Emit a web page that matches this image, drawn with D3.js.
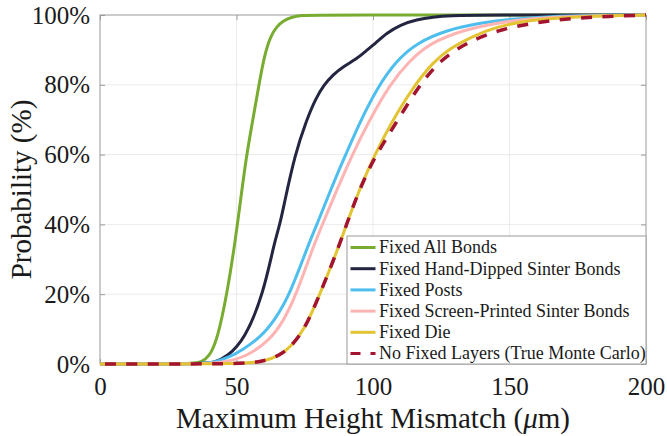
<!DOCTYPE html>
<html>
<head>
<meta charset="utf-8">
<script src="https://cdn.jsdelivr.net/npm/d3@7"></script>
<style>
  body { margin: 0; background: #fff; }
  text { font-family: "Liberation Serif", "Times New Roman", serif; fill: #1a1a1a; }
</style>
</head>
<body>
<svg id="chart" width="667" height="436"></svg>
<script>
// Axis ticks
const xTicks = [0, 50, 100, 150, 200];
const yTicks = [0, 20, 40, 60, 80, 100];

// Legend entries, colours and dash styles
const seriesNames = [
  "Fixed All Bonds",
  "Fixed Hand-Dipped Sinter Bonds",
  "Fixed Posts",
  "Fixed Screen-Printed Sinter Bonds",
  "Fixed Die",
  "No Fixed Layers (True Monte Carlo)"
];
const seriesColors = ["#77ac30", "#232541", "#4dbeee", "#ffb4b4", "#e2c433", "#a2142f"];
const seriesDashed = [false, false, false, false, false, true];

// Cumulative probability (%) against maximum height mismatch (um), [x, P]
const fixedAllBonds = [[0,0],[34,0],[37,0.5],[40,2],[43,7],[46.5,20],[49.5,35],[51.5,47],[53.7,60],
  [56,70],[58.2,80],[60.4,89],[62.5,94],[64.8,96.7],[67,98.3],[70,99.4],[74,99.9],[78,100],[200,100]];
const fixedHandDipped = [[0,0],[38,0],[42,0.5],[46.4,2],[53,7],[59.8,20],[63.9,35],[65.9,40],[67.5,46],
  [71.4,60],[75.7,70],[79,76],[82,80],[85.5,83],[89,85.2],[94,87.4],[97,89.4],[101.3,92.2],[105,94.8],
  [110,97.2],[116,98.7],[122,99.4],[128,99.8],[140,100],[200,100]];
const fixedPosts = [[0,0],[38,0],[42,0.5],[47.6,2],[52,4],[58.6,7.5],[64,12.5],[69.6,20],[76.2,34],[80,41],
  [83,47],[88,56.5],[90.3,60.5],[95,69],[101.8,79.5],[108.7,87],[116,92],[127,95.7],[139,97.7],[150,98.8],
  [165,99.6],[180,99.9],[200,100]];
const fixedScreenPrinted = [[0,0],[40,0],[45,0.5],[53.7,2],[62.3,7],[67,12],[72,20],[78.5,34.5],[81.5,40],
  [86,48.5],[92.7,60.5],[98.5,69.5],[106,80],[113.5,87],[121,92],[133,95.7],[145,97.7],[158,99],[175,99.7],
  [200,100]];
const fixedDie = [[0,0],[45,0],[55,0.3],[60,0.8],[66,2.5],[70,5],[75,10],[80,19],[86.7,32],[90.3,40],
  [95,50],[100.7,60],[106.2,68.5],[114.8,79.5],[122,86.5],[128.2,90.5],[136.7,94],[145,96.5],[155,98.2],
  [165,99],[180,99.7],[200,100]];
const noFixedLayers = [[0,0],[45,0],[55,0.3],[60,0.8],[66,2.5],[70,5],[75,10],[80,19],[86.7,32],[90.3,40],
  [95,50],[100.7,59.5],[108,68.5],[116.6,79.5],[124.5,87],[134,92],[146.5,96],[165,98.6],[183,99.5],[200,100]];

const seriesData = [fixedAllBonds, fixedHandDipped, fixedPosts, fixedScreenPrinted, fixedDie, noFixedLayers];

const W = 667, H = 436;
const margin = { left: 100, right: 21, top: 15, bottom: 72 };
const iw = W - margin.left - margin.right;
const ih = H - margin.top - margin.bottom;

const svg = d3.select("#chart");
const g = svg.append("g").attr("transform", `translate(${margin.left},${margin.top})`);

const x = d3.scaleLinear().domain([0, 200]).range([0, iw]);
const y = d3.scaleLinear().domain([0, 100]).range([ih, 0]);

// Grid
g.append("g").selectAll("line").data(xTicks.slice(1, -1)).join("line")
  .attr("x1", d => x(d)).attr("x2", d => x(d)).attr("y1", 0).attr("y2", ih)
  .attr("stroke", "#ebebeb").attr("stroke-width", 1);
g.append("g").selectAll("line").data(yTicks.slice(1, -1)).join("line")
  .attr("y1", d => y(d)).attr("y2", d => y(d)).attr("x1", 0).attr("x2", iw)
  .attr("stroke", "#ebebeb").attr("stroke-width", 1);

// Axes with inward ticks
const axisColor = "#9a9a9a";
function styleAxis(sel, fontSize) {
  sel.select(".domain").remove();
  sel.selectAll(".tick line").attr("stroke", axisColor);
  sel.selectAll(".tick text").attr("font-size", fontSize)
    .attr("font-family", "'Liberation Serif', 'Times New Roman', serif").attr("fill", "#1a1a1a");
}
g.append("g").attr("transform", `translate(0,${ih})`)
  .call(d3.axisBottom(x).tickValues(xTicks).tickSizeInner(-5).tickSizeOuter(0).tickPadding(13))
  .call(s => styleAxis(s, 25));
g.append("g")
  .call(d3.axisLeft(y).tickValues(yTicks).tickFormat(d => d + "%").tickSizeInner(-5).tickSizeOuter(0).tickPadding(10))
  .call(s => styleAxis(s, 25));
g.append("g")
  .call(d3.axisTop(x).tickValues(xTicks).tickFormat("").tickSizeInner(-5).tickSizeOuter(0))
  .call(s => styleAxis(s, 25));
g.append("g").attr("transform", `translate(${iw},0)`)
  .call(d3.axisRight(y).tickValues(yTicks).tickFormat("").tickSizeInner(-5).tickSizeOuter(0))
  .call(s => styleAxis(s, 25));

// Plot box
g.append("rect").attr("x", 0).attr("y", 0).attr("width", iw).attr("height", ih)
  .attr("fill", "none").attr("stroke", axisColor).attr("stroke-width", 1);

// Curves (B-spline through the sampled points for smooth CDFs)
const line = d3.line().x(d => x(d[0])).y(d => y(d[1])).curve(d3.curveBasis);
seriesData.forEach((data, i) => {
  g.append("path").datum(data)
    .attr("d", line)
    .attr("fill", "none")
    .attr("stroke", seriesColors[i])
    .attr("stroke-width", seriesDashed[i] ? 3.5 : 3)
    .attr("stroke-linejoin", "round")
    .attr("stroke-dasharray", seriesDashed[i] ? "11,10.4" : null)
    .attr("stroke-dashoffset", seriesDashed[i] ? 16.4 : null);
});

// Legend (anchored to lower right corner of the plot)
const legW = 299, legH = 128, rowH = 21.2;
const leg = g.append("g").attr("transform", `translate(${iw - legW},${ih - legH})`);
leg.append("rect").attr("width", legW).attr("height", legH)
  .attr("fill", "#fff").attr("stroke", axisColor).attr("stroke-width", 1);
seriesNames.forEach((name, i) => {
  const cy = 11.5 + i * rowH;
  leg.append("line").attr("x1", 3.5).attr("x2", 28.5).attr("y1", cy).attr("y2", cy)
    .attr("stroke", seriesColors[i]).attr("stroke-width", 3)
    .attr("stroke-dasharray", seriesDashed[i] ? "10,10" : null);
  leg.append("text").attr("x", 32).attr("y", cy).attr("dy", "0.33em")
    .attr("font-size", 18).text(name);
});

// Axis titles
svg.append("text")
  .attr("x", margin.left + iw / 2).attr("y", 428)
  .attr("text-anchor", "middle").attr("font-size", 29)
  .call(t => {
    t.append("tspan").text("Maximum Height Mismatch (");
    t.append("tspan").attr("font-style", "italic").text("\u03bc");
    t.append("tspan").text("m)");
  });
svg.append("text")
  .attr("transform", `translate(31,${margin.top + ih / 2}) rotate(-90)`)
  .attr("text-anchor", "middle").attr("font-size", 29)
  .text("Probability (%)");
</script>
</body>
</html>
